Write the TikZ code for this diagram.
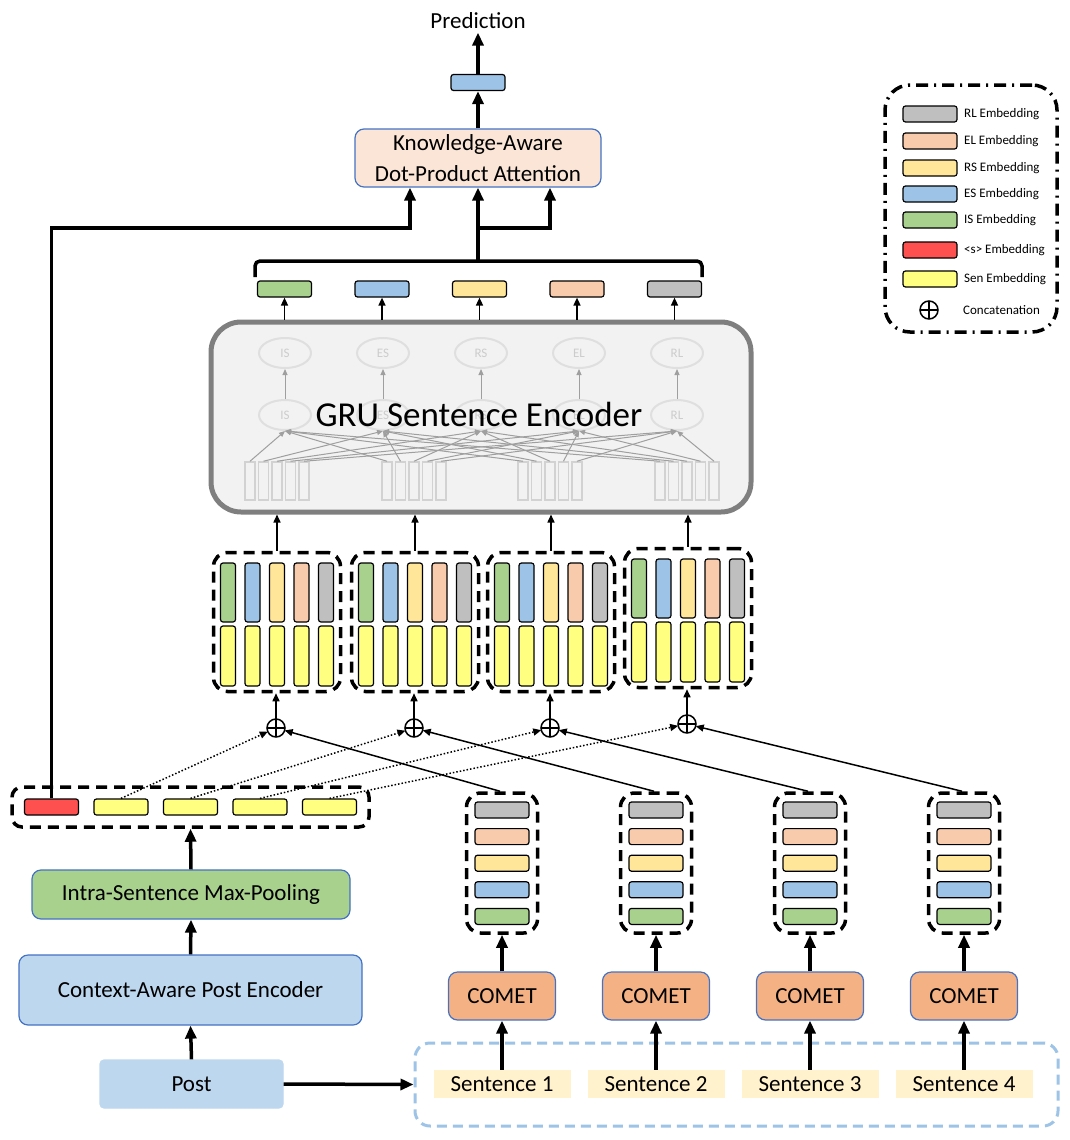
\documentclass[tikz,border=0pt]{standalone}
\usepackage{fontspec}
\setmainfont{Carlito}
\usetikzlibrary{arrows.meta,positioning,shapes.geometric}

\definecolor{isgreen}{HTML}{A9D18E}
\definecolor{esblue}{HTML}{9DC3E6}
\definecolor{rsyellow}{HTML}{FFE699}
\definecolor{elpeach}{HTML}{F8CBAD}
\definecolor{rlgrey}{HTML}{BFBFBF}
\definecolor{sred}{HTML}{FF5050}
\definecolor{senyellow}{HTML}{FFFF80}
\definecolor{cometfill}{HTML}{F4B183}
\definecolor{postblue}{HTML}{BDD7EE}
\definecolor{attnfill}{HTML}{FBE5D6}
\definecolor{boxline}{HTML}{4472C4}
\definecolor{sentfill}{HTML}{FFF2CC}
\definecolor{grufill}{HTML}{F2F2F2}
\definecolor{gruedge}{HTML}{7F7F7F}

\begin{document}
\begin{tikzpicture}[x=1pt,y=-1pt,
    emb/.style={draw, line width=1.2pt, rounded corners=2.5pt, inner sep=0pt},
    hemb/.style={emb, minimum width=54pt, minimum height=16pt},
    vemb/.style={emb, minimum width=15pt, minimum height=59pt},
    grp/.style={draw, line width=3.5pt, dash pattern=on 11pt off 7pt, rounded corners=14pt, inner sep=0pt},
    block/.style={draw=boxline, line width=1.2pt, rounded corners=9pt, font=\fontsize{23}{31}\selectfont, align=center},
    bigarrow/.style={line width=3.5pt, -{Triangle[length=13pt,width=11pt]}},
    smallarrow/.style={line width=1.5pt, -{Triangle[length=8pt,width=7pt]}},
    gruarrow/.style={draw=gray!75, line width=1pt, -{Triangle[length=6pt,width=5pt]}},
    oplus/.style={circle, draw, line width=1.5pt, minimum size=18pt, inner sep=0pt, outer sep=0pt},
    ell/.style={ellipse, draw=gray!25, line width=2pt, minimum width=52pt, minimum height=30pt, inner sep=0pt, text=gray!40, font=\fontsize{13}{15}\selectfont},
    cell/.style={draw=gray!35, fill=grufill, line width=1.5pt, minimum width=10pt, minimum height=38pt, inner sep=0pt},
    legtext/.style={anchor=west, inner sep=0pt, font=\fontsize{13}{15}\selectfont}]
  \useasboundingbox (0,0) rectangle (1070,1140);

  % output side
  \node[font=\fontsize{23}{28}\selectfont] (pred) at (478,21) {Prediction};
  \node[hemb, fill=esblue] (out) at (478,82.5) {};
  \node[block, fill=attnfill, minimum width=246pt, minimum height=58pt] (attn) at (478,158)
    {Knowledge-Aware\\Dot-Product Attention};
  \draw[bigarrow] (out.north) -- (pred.south);
  \draw[bigarrow] (attn.north) -- (out.south);

  % sentence-level embeddings
  \foreach \c [count=\i] in {isgreen,esblue,rsyellow,elpeach,rlgrey}
    \node[hemb, fill=\c] (top\i) at ({284.5+97.5*(\i-1)},289) {};
  \coordinate (bracetip) at (478,261); \coordinate (split) at (478,228);
  \draw[line width=3.5pt, rounded corners=5pt] (255,277) -- (255,261) -- (702,261) -- (702,277);
  \draw[bigarrow] (bracetip) -- (attn.south);
  \draw[bigarrow] (split) -| ([xshift=72pt]attn.south);

  % GRU sentence encoder
  \node[draw=gruedge, fill=grufill, line width=5pt, rounded corners=30pt,
    minimum width=540pt, minimum height=190pt] (gru) at (481,417) {};
  \foreach \t [count=\i] in {IS,ES,RS,EL,RL} {
    \node[ell] (hi\i) at ({285+98*(\i-1)},353) {\t};
    \node[ell] (lo\i) at ({285+98*(\i-1)},415) {\t};
    \draw[gruarrow] (lo\i.north) -- (hi\i.south);
    \draw[smallarrow] (top\i.south |- gru.north) -- (top\i.south);
  }
  \foreach \g/\gx in {1/277,2/414,3/550,4/687}
    \foreach \j in {1,...,5} {
      \node[cell] (c\g\j) at ({\gx+13.5*(\j-3)},481) {};
      \draw[gruarrow] (c\g\j.north) -- (lo\j.south);
    }
  \node[font=\fontsize{35}{40}\selectfont] (grulabel) at (479,414) {GRU Sentence Encoder};

  % concatenated inputs
  \foreach \g/\gx/\gy in {1/277/0,2/415/0,3/551/0,4/688/-4} {
    \node[grp, minimum width=127pt, minimum height=139pt] (g\g) at ({\gx},{622+\gy}) {};
    \foreach \c [count=\j] in {isgreen,esblue,rsyellow,elpeach,rlgrey} {
      \node[vemb, fill=\c] (col\g\j) at ({\gx+24.5*(\j-3)},{592.5+\gy}) {};
      \node[vemb, fill=senyellow, minimum height=60pt] (sen\g\j) at ({\gx+24.5*(\j-3)},{656+\gy}) {};
    }
    \draw[smallarrow] (g\g.north) -- (g\g.north |- gru.south);
    \node[oplus] (o\g) at ({\gx-1},{728+\gy}) {};
    \draw[line width=1.5pt] (o\g.north) -- (o\g.south) (o\g.west) -- (o\g.east);
    \draw[smallarrow] (o\g.north) -- (o\g.north |- g\g.south);
  }

  % post branch
  \node[grp, minimum width=357pt, minimum height=40pt, rounded corners=10pt] (row) at (190.5,807) {};
  \node[hemb, fill=sred] (s0) at (51.5,807) {};
  \foreach \i in {1,...,4} {
    \node[hemb, fill=senyellow] (s\i) at ({121+69.5*(\i-1)},807) {};
    \draw[smallarrow, dotted] (s\i.north) -- (o\i);
  }
  \draw[bigarrow] (s0.north) -- (s0.north |- split) -| ([xshift=-68pt]attn.south);
  \node[block, fill=isgreen, minimum width=318pt, minimum height=49pt] (intra) at (191,894.5)
    {Intra-Sentence Max-Pooling};
  \node[block, fill=postblue, minimum width=343pt, minimum height=70pt] (ctx) at (190.5,990)
    {Context-Aware Post Encoder};
  \node[block, draw=postblue, fill=postblue, rounded corners=4pt, minimum width=183pt, minimum height=48pt] (post) at (191.5,1084)
    {Post};
  \draw[bigarrow] (post.north) -- (ctx.south);
  \draw[bigarrow] (ctx.north) -- (intra.south);
  \draw[bigarrow] (intra.north) -- (row.south);

  % knowledge branch
  \node[draw=esblue, line width=3pt, dash pattern=on 10pt off 6pt, rounded corners=15pt,
    minimum width=643pt, minimum height=83pt] (sents) at (736.5,1084.5) {};
  \draw[bigarrow] (post.east) -- (sents.west);
  \foreach \x [count=\i] in {502,656,810,964} {
    \node[font=\fontsize{23}{28}\selectfont, fill=sentfill, minimum width=137pt, minimum height=28pt, inner sep=0pt] (sent\i) at (\x,1084) {Sentence \i};
    \node[block, fill=cometfill, minimum width=107pt, minimum height=48pt] (comet\i) at (\x,996) {COMET};
    \node[grp, minimum width=71pt, minimum height=140pt] (know\i) at (\x,863) {};
    \foreach \c [count=\j] in {rlgrey,elpeach,rsyellow,esblue,isgreen}
      \node[hemb, fill=\c] (kn\i\j) at (\x,{810+26.6*(\j-1)}) {};
    \draw[bigarrow] (sent\i.north) -- (comet\i.south);
    \draw[bigarrow] (comet\i.north) -- (know\i.south);
    \draw[smallarrow] ([xshift=-2pt]know\i.north) -- (o\i);
  }

  % legend
  \node[draw, line width=3.5pt, dash pattern=on 12pt off 6pt on 2pt off 6pt, rounded corners=25pt,
    minimum width=172pt, minimum height=247pt] (legend) at (971,208.5) {};
  \foreach \c/\t/\y in {rlgrey/RL Embedding/114, elpeach/EL Embedding/141, rsyellow/RS Embedding/168,
      esblue/ES Embedding/194, isgreen/IS Embedding/220, sred/<s> Embedding/250, senyellow/Sen Embedding/279} {
    \node[hemb, fill=\c] (sw\y) at (930,\y) {};
    \node[legtext] (lt\y) at (964,\y) {\t};
  }
  \node[oplus] (lo) at (929,310) {};
  \draw[line width=1.5pt] (lo.north) -- (lo.south) (lo.west) -- (lo.east);
  \node[legtext] (ltcat) at (963,310) {Concatenation};
\end{tikzpicture}
\end{document}
